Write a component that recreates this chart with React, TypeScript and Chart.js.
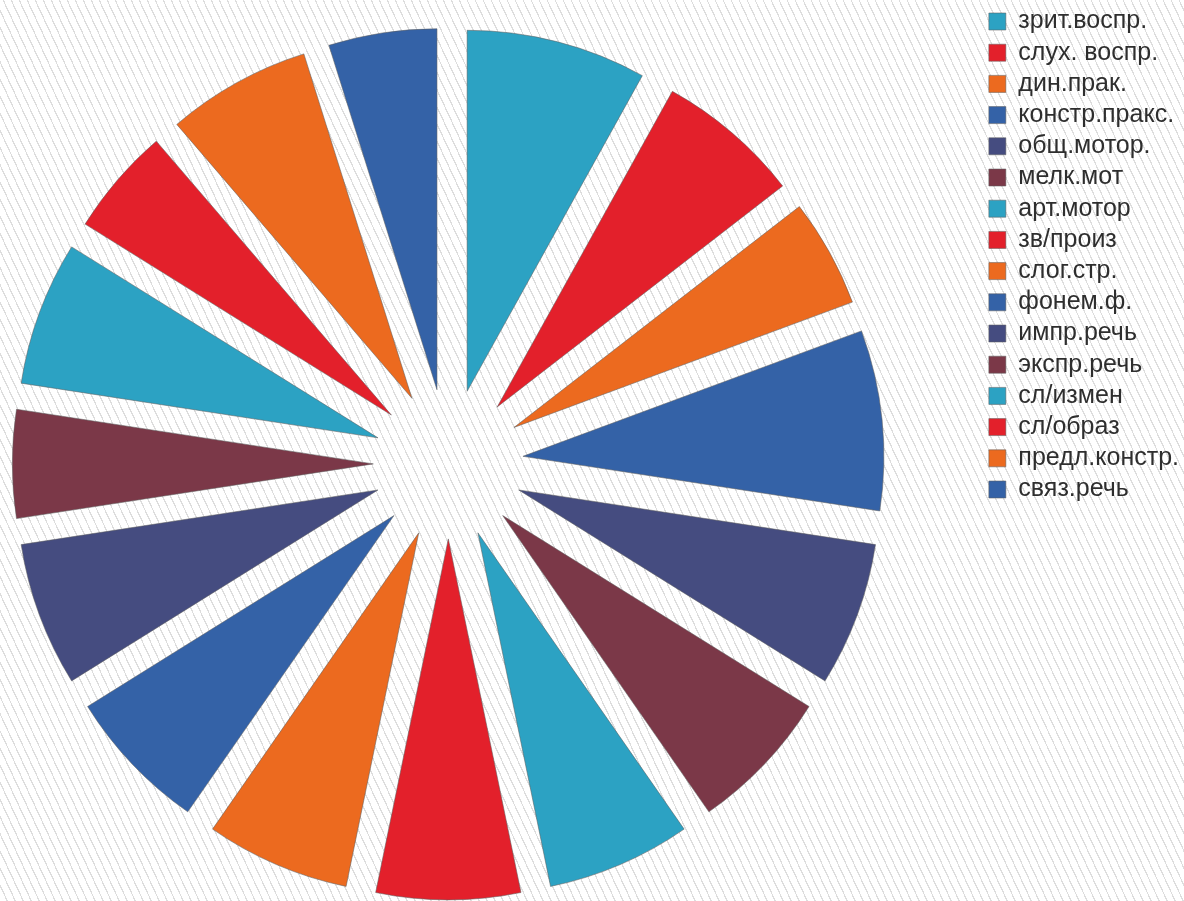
import React, { useEffect, useRef } from "react";
import { Chart, registerables } from "chart.js";

Chart.register(...registerables);

const labels: string[] = [
  "зрит.воспр.",
  "слух. воспр.",
  "дин.прак.",
  "констр.пракс.",
  "общ.мотор.",
  "мелк.мот",
  "арт.мотор",
  "зв/произ",
  "слог.стр.",
  "фонем.ф.",
  "импр.речь",
  "экспр.речь",
  "сл/измен",
  "сл/образ",
  "предл.констр.",
  "связ.речь",
];

const values: number[] = [5, 4, 3, 5, 4, 4, 4, 4, 4, 4, 4, 3, 4, 3, 4, 3];

const palette: string[] = ["#2ca2c3", "#e3202b", "#ec6a1f", "#3462a7", "#454c80", "#7b3848"];
const colors: string[] = labels.map((_, i) => palette[i % palette.length]);

const OFFSET = 300;

// Chart.js enlarges and narrows offset arcs a little; undo that so every
// exploded slice keeps the same radius and straight, parallel gaps.
const evenRadius = {
  id: "evenRadius",
  afterDatasetUpdate(chart: any, args: any) {
    const meta = chart.getDatasetMeta(args.index);
    const ctrl: any = meta.controller;
    const R = ctrl.outerRadius;
    const off = OFFSET / 4;
    for (const arc of meta.data as any[]) {
      const fix = 1 - Math.sin(Math.min(Math.PI, arc.circumference || 0));
      const o = off * fix;
      arc.outerRadius = R - o;
      const d = o / (2 * Math.PI * R);
      arc.startAngle = arc.startAngle - d;
      arc.endAngle = arc.endAngle + d;
    }
  },
};

export default function App() {
  const ref = useRef<HTMLCanvasElement | null>(null);

  useEffect(() => {
    if (!ref.current) return;
    const chart = new Chart(ref.current, {
      type: "pie",
      data: {
        labels,
        datasets: [
          {
            data: values,
            backgroundColor: colors,
            borderColor: "rgba(95,95,95,0.55)",
            borderWidth: 1,
            offset: OFFSET,
            hoverOffset: OFFSET,
            clip: false,
          } as any,
        ],
      },
      options: {
        animation: false,
        responsive: true,
        maintainAspectRatio: false,
        radius: 361,
        layout: { padding: { left: 0, right: 0, top: 2.8, bottom: 0 } },
        plugins: {
          legend: {
            position: "right",
            align: "start",
            labels: {
              boxWidth: 17,
              boxHeight: 17,
              padding: 6.2,
              color: "#2e2e2e",
              font: { family: "'Liberation Sans', Arial, sans-serif", size: 25 },
            },
          },
          tooltip: { enabled: false },
        },
      } as any,
      plugins: [evenRadius as any],
    });
    return () => chart.destroy();
  }, []);

  return (
    <div
      style={{
        position: "fixed",
        left: 0,
        top: 0,
        width: 1184,
        height: 901,
        overflow: "hidden",
        backgroundColor: "#ffffff",
        backgroundImage:
          "repeating-linear-gradient(65deg, #ffffff 0px, #ffffff 6px, #dddddd 6px, #dddddd 7.25px)",
      }}
    >
      <div style={{ position: "absolute", left: -86, top: 0, width: 1275, height: 925 }}>
        <canvas ref={ref} />
      </div>
    </div>
  );
}
